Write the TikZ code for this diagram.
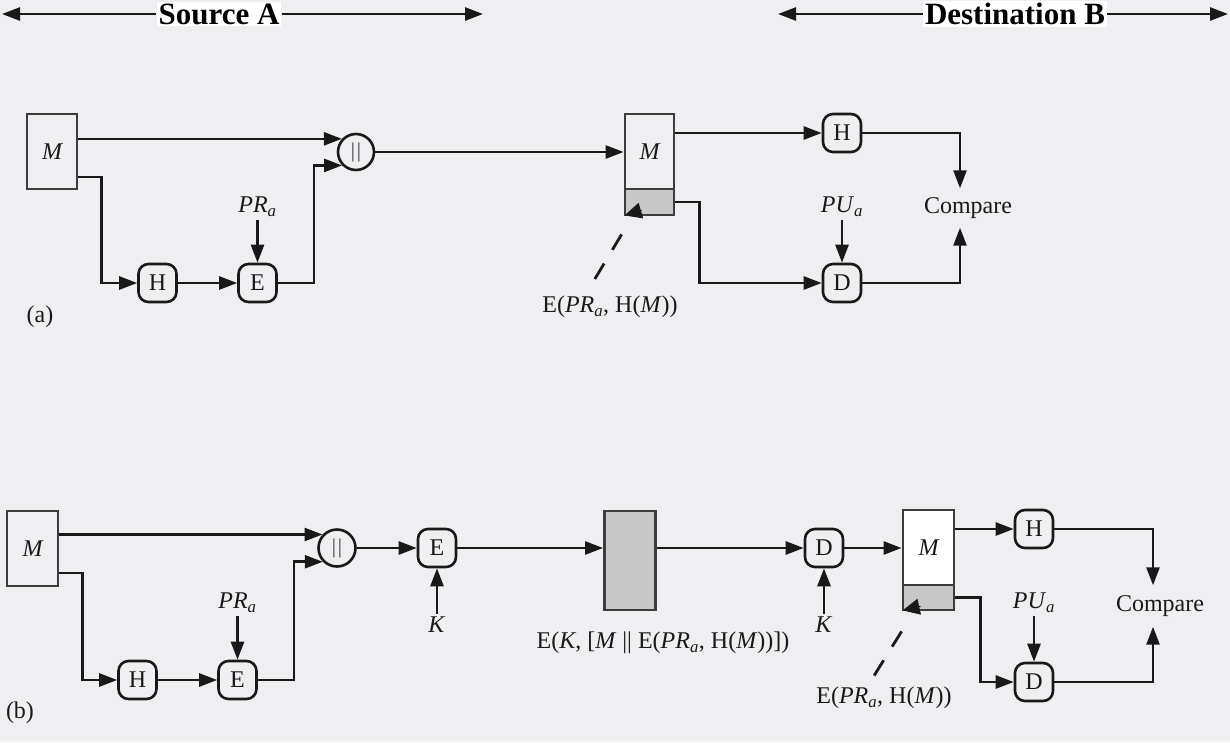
\documentclass[tikz,border=0pt]{standalone}
\usepackage{fontspec}
\setmainfont{Liberation Serif}
\usetikzlibrary{arrows.meta, calc, positioning}
\definecolor{dsBg}{RGB}{239,239,241}
\definecolor{dsLine}{RGB}{25,25,25}
\definecolor{dsEdge}{RGB}{60,60,60}
\definecolor{dsGrey}{RGB}{200,200,200}
\newcommand{\lblfont}{\fontsize{24}{28}\selectfont}
\newcommand{\hdrfont}{\fontsize{31}{35}\selectfont\bfseries}
\newcommand{\PRa}{\textit{PR}\textsubscript{\textit{a}}}
\newcommand{\PUa}{\textit{PU}\textsubscript{\textit{a}}}
\newcommand{\catbars}{{\fontsize{21}{21}\selectfont|\kern2pt|}}
\tikzset{
  msgbox/.style={rectangle, draw=dsEdge, line width=2.8pt, minimum width=50pt,
    minimum height=75pt, inner sep=0pt, font=\lblfont\itshape, text=dsLine},
  sigbox/.style={rectangle, draw=dsEdge, fill=dsGrey, line width=2.8pt,
    minimum width=50pt, minimum height=26pt, inner sep=0pt},
  cipherbox/.style={rectangle, draw=dsEdge, fill=dsGrey, line width=2.8pt,
    minimum width=51pt, minimum height=99pt, inner sep=0pt},
  opbox/.style={rectangle, rounded corners=10pt, draw=dsLine, line width=2.6pt,
    minimum size=38pt, inner sep=0pt, font=\lblfont, text=dsLine},
  catcirc/.style={circle, draw=dsLine, line width=2.6pt, minimum size=36pt,
    inner sep=0pt, text=dsEdge},
  lbl/.style={font=\lblfont, text=dsLine, inner sep=3pt},
  cmplabel/.style={font=\lblfont, text=dsLine, inner sep=9pt},
  hdrlabel/.style={font=\hdrfont, text=black, fill=white, inner sep=2pt},
  arrow/.style={-{Triangle[length=18pt, width=13pt]}, line width=2.6pt, color=dsLine},
  sigtip/.style={-{Triangle[length=17pt, width=16pt]}, line width=1pt, color=dsLine},
  leader/.style={line width=2.8pt, color=dsLine, dash pattern=on 18pt off 16pt},
}

\begin{document}
\begin{tikzpicture}[x=1pt, y=-1pt]

%% BACKGROUND
\fill[dsBg] (0,0) rectangle (1230,742);
\useasboundingbox (0,0) rectangle (1230,742);

%% HEADER
\node[hdrlabel] (src_label) at (219,14) {Source A};
\node[hdrlabel] (dst_label) at (1015,14) {Destination B};
\coordinate (src_l) at (2,14);
\coordinate (src_r) at (483,14);
\coordinate (dst_l) at (778,14);
\coordinate (dst_r) at (1228,14);
\draw[arrow] (src_label.west) -- (src_l);
\draw[arrow] (src_label.east) -- (src_r);
\draw[arrow] (dst_label.west) -- (dst_l);
\draw[arrow] (dst_label.east) -- (dst_r);

%% (a) SOURCE
\node[msgbox] (m_a) at (52,151.5) {M};
\node[opbox] (h_a) at (157.5,283) {H};
\node[opbox] (e_a) at (257.5,283) {E};
\node[lbl] (pr_a) at (257.5,207) {\PRa};
\node[catcirc] (cat_a) at (356,152) {\catbars};
\node[lbl] (tag_a) at (40,317) {(a)};

%% (a) DESTINATION
\node[msgbox, minimum width=49pt] (rx_a) at (649.5,151.5) {M};
\node[sigbox, minimum width=49pt] (sig_a) at (649.5,202) {};
\node[opbox] (h_a2) at (842,133) {H};
\node[opbox] (d_a) at (842,283) {D};
\node[lbl] (pu_a) at (842,207) {\PUa};
\node[cmplabel] (cmp_a) at (968,208) {Compare};
\node[lbl] (sig_a_lbl) at (610,307) {E(\PRa, H(\textit{M}))};

%% (a) ARROWS
\draw[arrow] (cat_a.137 -| m_a.east) -- (cat_a.137);
\draw[arrow] ($(m_a.east)+(0,25.5)$) -- ++(23,0) |- (h_a);
\draw[arrow] (h_a) -- (e_a);
\draw[arrow] (pr_a) -- (e_a);
\draw[arrow] (e_a.east) -- ++(36,0) |- (cat_a.224);
\draw[arrow] (cat_a.east) -- (cat_a.east -| rx_a.west);
\draw[arrow] (rx_a.east |- h_a2) -- (h_a2);
\draw[arrow] (sig_a.east) -- ++(24,0) |- (d_a);
\draw[arrow] (pu_a) -- (d_a);
\draw[arrow] (h_a2.east) -| ($(cmp_a.north)+(-8,0)$);
\draw[arrow] (d_a.east) -| ($(cmp_a.south)+(-8,0)$);
\draw[leader] ($(sig_a.south west)+(-2,18)$) -- ($(sig_a.south west)+(-29,63)$);
\draw[sigtip] ($(sig_a.south west)+(18,-6)$) -- ($(sig_a.south west)+(1,-1)$);

%% (b) SOURCE
\node[msgbox, minimum width=51pt] (m_b) at (32.5,548.5) {M};
\node[opbox] (h_b) at (137.5,680) {H};
\node[opbox] (e_b) at (237.5,680) {E};
\node[lbl] (pr_b) at (237.5,603) {\PRa};
\node[catcirc, minimum size=37pt] (cat_b) at (337,548) {\catbars};
\node[opbox] (e_b2) at (437,548) {E};
\node[lbl] (k_b1) at (437,625) {\textit{K}};
\node[lbl] (tag_b) at (20,713) {(b)};

%% (b) CHANNEL
\node[cipherbox] (ct_b) at (630,560.5) {};
\node[lbl] (ct_b_lbl) at (663,643)
  {E(\textit{K}, [\textit{M} || E(\PRa, H(\textit{M}))])};

%% (b) DESTINATION
\node[opbox] (d_b1) at (824,548) {D};
\node[lbl] (k_b2) at (824,625) {\textit{K}};
\node[msgbox, minimum width=51pt, fill=white] (rx_b) at (928.5,547.5) {M};
\node[sigbox, minimum width=51pt, minimum height=25pt] (sig_b) at (928.5,597.5) {};
\node[opbox] (h_b2) at (1034,529) {H};
\node[opbox] (d_b2) at (1034,682) {D};
\node[lbl] (pu_b) at (1034,603) {\PUa};
\node[cmplabel, inner sep=10pt] (cmp_b) at (1160,606) {Compare};
\node[lbl] (sig_b_lbl) at (884,698) {E(\PRa, H(\textit{M}))};

%% (b) ARROWS
\draw[arrow] (cat_b.137 -| m_b.east) -- (cat_b.137);
\draw[arrow] ($(m_b.east)+(0,24.5)$) -- ++(23,0) |- (h_b);
\draw[arrow] (h_b) -- (e_b);
\draw[arrow] (pr_b) -- (e_b);
\draw[arrow] (e_b.east) -- ++(36,0) |- (cat_b.224);
\draw[arrow] (cat_b) -- (e_b2);
\draw[arrow] (k_b1) -- (e_b2);
\draw[arrow] (e_b2.east) -- (e_b2.east -| ct_b.west);
\draw[arrow] (ct_b.east |- d_b1) -- (d_b1);
\draw[arrow] (k_b2) -- (d_b1);
\draw[arrow] (d_b1.east) -- (d_b1.east -| rx_b.west);
\draw[arrow] (rx_b.east |- h_b2) -- (h_b2);
\draw[arrow] (sig_b.east) -- ++(25,0) |- (d_b2);
\draw[arrow] (pu_b) -- (d_b2);
\draw[arrow] (h_b2.east) -| ($(cmp_b.north)+(-7,0)$);
\draw[arrow] (d_b2.east) -| ($(cmp_b.south)+(-7,0)$);
\draw[leader] ($(sig_b.south west)+(0,20)$) -- ($(sig_b.south west)+(-28,65)$);
\draw[sigtip] ($(sig_b.south west)+(19,-5)$) -- ($(sig_b.south west)+(1,-1)$);

\end{tikzpicture}
\end{document}
